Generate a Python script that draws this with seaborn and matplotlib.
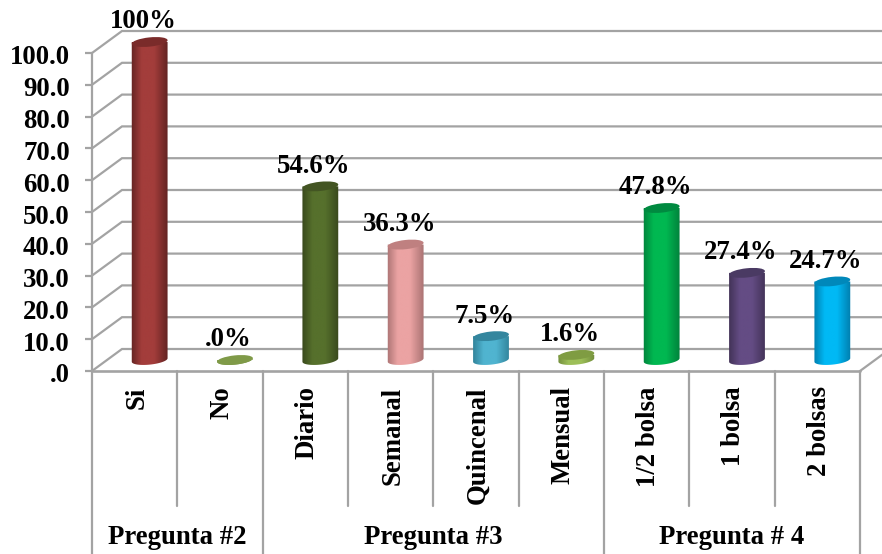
import numpy as np
import pandas as pd
import matplotlib
matplotlib.use("Agg")
import matplotlib.pyplot as plt
import seaborn as sns
from matplotlib.colors import LinearSegmentedColormap
from matplotlib.patches import Ellipse
from matplotlib.path import Path
from matplotlib.transforms import IdentityTransform, ScaledTranslation

categories = ["Si", "No", "Diario", "Semanal", "Quincenal", "Mensual",
              "1/2 bolsa", "1 bolsa", "2 bolsas"]
values = [100.0, 0.0, 54.6, 36.3, 7.5, 1.6, 47.8, 27.4, 24.7]
value_labels = ["100%", ".0%", "54.6%", "36.3%", "7.5%", "1.6%", "47.8%", "27.4%", "24.7%"]
body_colors = ["#A33D3B", "#7F9A48", "#56702C", "#EBA3A3", "#50B4D0", "#9DBF58",
               "#00B851", "#644C84", "#00B9F5"]
edge_colors = ["#5E2120", "#7F9A48", "#36451B", "#A56F6F", "#2F7F96", "#6F8A3A",
               "#007E3A", "#3F3053", "#0079A8"]
top_colors = ["#7A2B2A", "#7F9A48", "#435523", "#BF8080", "#34869E", "#7F9C42",
              "#008A40", "#4A3A63", "#0088BA"]
groups = ["Pregunta #2", "Pregunta #3", "Pregunta # 4"]
group_spans = [(-0.5, 1.5), (1.5, 5.5), (5.5, 8.5)]
y_ticks = [0, 10, 20, 30, 40, 50, 60, 70, 80, 90, 100]
y_tick_labels = [".0", "10.0", "20.0", "30.0", "40.0", "50.0", "60.0", "70.0", "80.0", "90.0", "100.0"]

W, H = 882, 554
GRID = "#A3A3A3"
LW = 1.6
FS = 19.3

sns.set_theme(style="white")
plt.rcParams["font.family"] = ["Liberation Serif"]
plt.rcParams["font.weight"] = "bold"

fig = plt.figure(figsize=(W / 100, H / 100), dpi=100, facecolor="white")


def axes_box(left, right, top, bottom):
    return [left / W, (H - bottom) / H, (right - left) / W, (bottom - top) / H]


def px_shift(dx_px, dy_px):
    return ScaledTranslation(dx_px / 100, dy_px / 100, fig.dpi_scale_trans)


# Front plane of the 3D box: axis, category cells and the receding walls
ax = fig.add_axes(axes_box(92, 860, 53, 371))
ax.set_xlim(-0.5, 8.5)
ax.set_ylim(0, 100)
ax.patch.set_visible(False)
for s in ax.spines.values():
    s.set_visible(False)

px_x = 9 / 768
px_y = 100 / 318
dx, dy = 30 * px_x, 22 * px_y
for v in y_ticks:
    ax.plot([-0.5, -0.5 + dx, 8.5 + dx], [v, v + dy, v + dy],
            color=GRID, lw=LW, clip_on=False, zorder=1, solid_joinstyle="miter")
ax.plot([8.5, 8.5 + dx], [0, dy], color=GRID, lw=LW, clip_on=False, zorder=1)
ax.plot([-0.5, 8.5], [0, 0], color=GRID, lw=LW + 0.3, clip_on=False, zorder=1)

ax.set_yticks(y_ticks, y_tick_labels, fontsize=FS, fontweight="bold", color="black")
ax.tick_params(axis="y", left=True, length=5, width=LW, color=GRID, pad=11)
ax.set_xticks(range(len(categories)), categories, rotation=90, fontsize=FS,
              fontweight="bold", color="black")
ax.tick_params(axis="x", bottom=False, pad=5)
for lab in ax.get_yticklabels():
    lab.set_transform(lab.get_transform() + px_shift(0, -2))
for lab in ax.get_xticklabels():
    lab.set_transform(lab.get_transform() + px_shift(2, 0))

# Category cell separators; group boundaries run down to the figure edge
xform = ax.get_xaxis_transform()
cell_end = (371 - 506) / 318
fig_end = (371 - 554) / 318
group_edges = {-0.5, 1.5, 5.5, 8.5}
for b in np.arange(-0.5, 9.0, 1.0):
    end = fig_end if b in group_edges else cell_end
    ax.plot([b, b], [0, end], color=GRID, lw=LW, transform=xform, clip_on=False, zorder=1)
ax.plot([-0.5, -0.5], [0, 100], color=GRID, lw=LW, clip_on=False, zorder=1)

for name, (a, b) in zip(groups, group_spans):
    ax.text((a + b) / 2, (371 - 537) / 318, name, transform=xform, ha="center", va="center",
            fontsize=FS, fontweight="bold", color="black")

# Cylinders sit half a box depth behind the front plane
bar_ax = fig.add_axes(axes_box(107, 875, 42, 360), zorder=2)
frame = pd.DataFrame({"categoria": categories, "valor": values})
sns.barplot(data=frame, x="categoria", y="valor", hue="categoria", order=categories,
            hue_order=categories, palette=body_colors, width=0.41, dodge=False,
            legend=False, saturation=1, ax=bar_ax)
bar_ax.set_xlim(-0.5, 8.5)
bar_ax.set_ylim(0, 100)
bar_ax.axis("off")
bar_ax.patch.set_visible(False)

fig.canvas.draw()
A, B, TILT = 18.0, 4.6, 6.0
theta = np.deg2rad(TILT)
shade = np.linspace(0, 1, 128).reshape(1, -1)
arc = np.linspace(np.pi, 2 * np.pi, 48)
arc_x = A * np.cos(arc) * np.cos(theta) - B * np.sin(arc) * np.sin(theta)
arc_y = A * np.cos(arc) * np.sin(theta) + B * np.sin(arc) * np.cos(theta)
to_px = bar_ax.transData
for patch, value, text, body, edge, top in zip(bar_ax.patches, values, value_labels,
                                               body_colors, edge_colors, top_colors):
    x0, w = patch.get_x(), patch.get_width()
    xc = x0 + w / 2
    cx, base_y = to_px.transform((xc, 0))
    _, top_y = to_px.transform((xc, value))
    patch.set_visible(False)

    # Silhouette: straight sides closed by the lower half of the base ellipse
    outline_pts = np.vstack([[[cx + arc_x[0], top_y]],
                             np.column_stack([cx + arc_x, base_y + arc_y]),
                             [[cx + arc_x[-1], top_y]]])
    outline = Path(np.vstack([outline_pts, outline_pts[:1]]), closed=True)

    # Side shading: dark rims, lit centre
    cmap = LinearSegmentedColormap.from_list(
        "cyl", [(0, edge), (0.3, body), (0.62, body), (1, edge)])
    img = bar_ax.imshow(shade, extent=(xc - w / 2 - 0.02, xc + w / 2 + 0.02, -4, value + 4),
                        cmap=cmap, aspect="auto", zorder=3, interpolation="bilinear")
    img.set_clip_box(fig.bbox)
    img.set_clip_path(outline, IdentityTransform())
    bar_ax.add_patch(Ellipse((cx, top_y), 2 * A, 2 * B, angle=TILT, facecolor=top,
                             edgecolor="none", transform=IdentityTransform(), zorder=4,
                             clip_on=False))
    bar_ax.annotate(text, (xc, value), xytext=(-6.5, 20), textcoords="offset pixels",
                    ha="center", va="center", fontsize=FS, fontweight="bold",
                    color="black", zorder=5, annotation_clip=False)

bar_ax.set_xlim(-0.5, 8.5)
bar_ax.set_ylim(0, 100)

fig.savefig("out.png", dpi=100, facecolor="white")
